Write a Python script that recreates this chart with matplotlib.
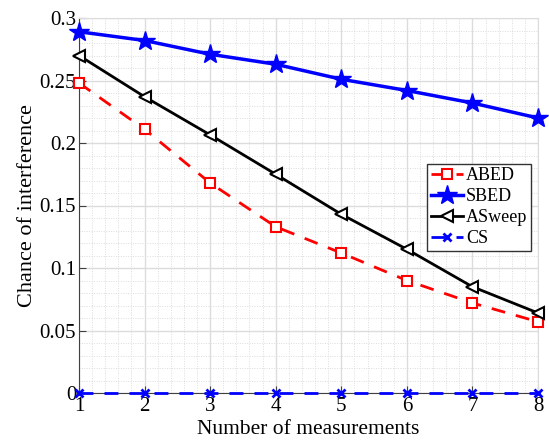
import matplotlib
matplotlib.use("Agg")
import matplotlib.pyplot as plt
from matplotlib.ticker import MultipleLocator

x = [1, 2, 3, 4, 5, 6, 7, 8]
abed = [0.248, 0.211, 0.168, 0.133, 0.112, 0.090, 0.072, 0.057]
sbed = [0.289, 0.282, 0.271, 0.263, 0.251, 0.242, 0.232, 0.220]
asweep = [0.270, 0.237, 0.2065, 0.175, 0.143, 0.115, 0.085, 0.064]
cs = [0, 0, 0, 0, 0, 0, 0, 0]

xticks = [1, 2, 3, 4, 5, 6, 7, 8]
yticks = [0, 0.05, 0.1, 0.15, 0.2, 0.25, 0.3]
yticklabels = ["0", "0.05", "0.1", "0.15", "0.2", "0.25", "0.3"]

plt.rcParams['font.family'] = ['Liberation Serif', 'DejaVu Serif']

fig = plt.figure(figsize=(5.49, 4.45), dpi=100)
ax = fig.add_axes([79/549, 1 - 393/445, (538-79)/549, (393-18)/445])

ax.plot(x, abed, color='#ff0000', ls=(0, (5, 4)), lw=2, marker='s', ms=7.5,
        mfc='white', mec='#ff0000', mew=1.5, label='ABED', zorder=4, clip_on=False)
ax.plot(x, sbed, color='#0000ff', ls='-', lw=2.5, marker='*', ms=15,
        mfc='#0000ff', mec='#0000ff', label='SBED', zorder=4, clip_on=False)
ax.plot(x, asweep, color='black', ls='-', lw=2, marker='<', ms=8.5,
        mfc='white', mec='black', mew=1.5, label='ASweep', zorder=4, clip_on=False)
ax.plot(x, cs, color='#0000ff', ls=(0, (5, 4)), lw=2, marker='x', ms=6,
        mec='#0000ff', mew=2, label='CS', zorder=5, clip_on=False)

ax.set_xlim(1, 8)
ax.set_ylim(0, 0.3)
ax.set_xticks(xticks)
ax.set_yticks(yticks)
ax.set_yticklabels(yticklabels)
ax.xaxis.set_minor_locator(MultipleLocator(0.2))
ax.yaxis.set_minor_locator(MultipleLocator(0.01))
ax.grid(True, which='major', color='#dcdcdc', lw=1, zorder=0)
ax.grid(True, which='minor', color='#dcdcdc', lw=0.7, ls=(0, (1, 1.5)), zorder=0)
ax.set_axisbelow(True)

for s in ['top', 'right']:
    ax.spines[s].set_color('#dcdcdc')
for s in ['left', 'bottom']:
    ax.spines[s].set_color('#404040')
ax.tick_params(which='major', direction='in', length=5, color='#404040', labelsize=15,
               top=False, right=False)
ax.tick_params(which='minor', length=0)
ax.tick_params(axis='x', pad=3)
ax.tick_params(axis='y', pad=2)

ax.set_xlabel('Number of measurements', fontsize=15.5, labelpad=3)
ax.set_ylabel('Chance of interference', fontsize=16, labelpad=2)

leg = ax.legend(loc='upper right', bbox_to_anchor=(0.985, 0.611), fontsize=13,
                frameon=True, fancybox=False, edgecolor='#333333', framealpha=1,
                borderpad=0.2, labelspacing=0.22, handlelength=1.8, handletextpad=0.15,
                borderaxespad=0)
leg.get_frame().set_linewidth(1)

fig.savefig('out.png', dpi=100)
